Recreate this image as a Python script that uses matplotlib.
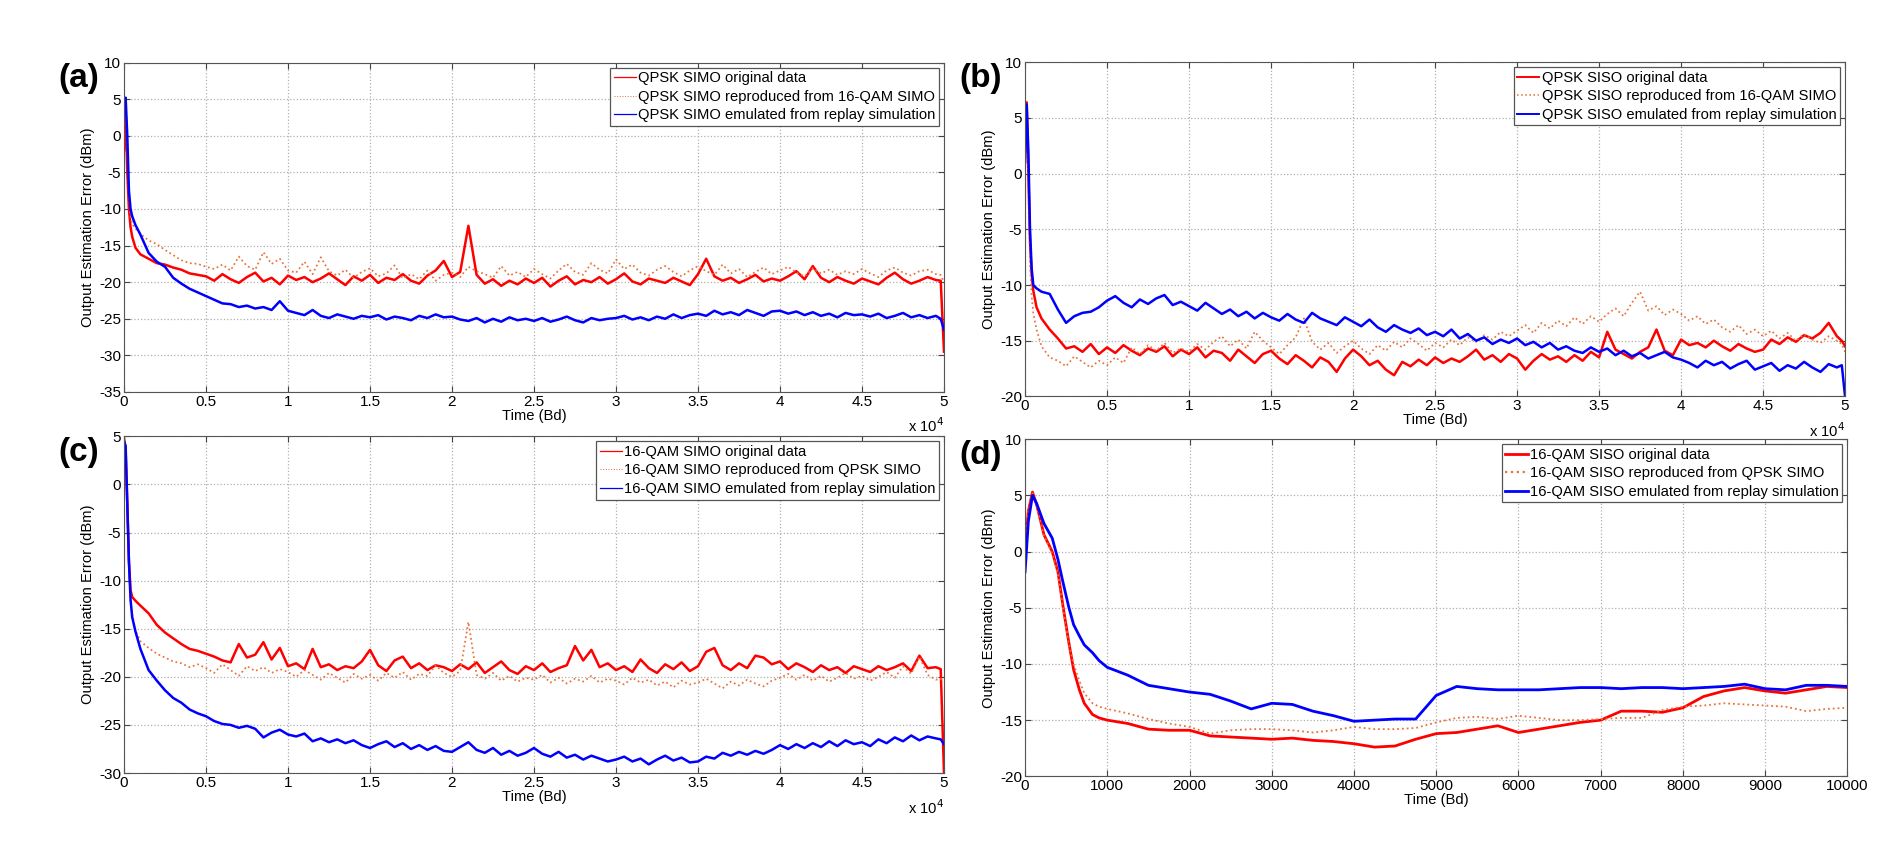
import numpy as np
import matplotlib
matplotlib.use('Agg')
import matplotlib.pyplot as plt
from matplotlib.lines import Line2D
from matplotlib.ticker import FormatStrFormatter

plt.rcParams['font.family'] = ['Liberation Sans', 'DejaVu Sans']
plt.rcParams['axes.unicode_minus'] = False

# ---------------------------------------------------------------------------
# data, panels (a)-(c) share one time grid [Bd]
# ---------------------------------------------------------------------------
x_early = [0, 100, 200, 300, 400, 500, 700, 1000, 1500, 2000, 2500, 3000, 3500, 4000, 4500]
x_abc = np.array(x_early + list(range(5000, 50000, 500)) + [49800, 50000])

# (a) QPSK SIMO
a_orig = [-2, 3.3, -5, -10, -12.5, -13.8, -15.3, -16.2, -16.8, -17.4, -17.6, -18.0, -18.3, -18.8, -19.0,
          -19.2, -19.8, -18.9, -19.6, -20.1, -19.3, -18.7, -19.9, -19.4, -20.3,
          -19.1, -19.7, -19.3, -20.0, -19.5, -18.8, -19.6, -20.4, -19.2, -19.8,
          -19.0, -20.1, -19.4, -19.7, -18.9, -19.8, -20.2, -19.1, -18.4, -17.1,
          -19.3, -18.6, -12.3, -19.0, -20.2, -19.6, -20.5, -19.8, -20.3, -19.5,
          -20.1, -19.4, -20.6, -19.8, -19.2, -20.3, -19.7, -20.0, -19.3, -20.2,
          -19.6, -18.8, -19.9, -20.3, -19.5, -19.8, -20.1, -19.4, -19.9, -20.4,
          -18.9, -16.8, -19.2, -19.8, -19.4, -20.1, -19.6, -19.0, -19.9, -19.5,
          -19.8, -19.2, -18.5, -19.6, -17.8, -19.4, -20.0, -19.3, -19.8, -20.2,
          -19.5, -19.9, -20.3, -19.4, -18.7, -19.6, -20.2, -19.8, -19.3, -19.7,
          -19.8, -29.5]
a_repr = [1, 4.5, -1, -8, -11, -12, -12.7, -13.4, -14.3, -14.8, -15.6, -16.3, -17.0, -17.4, -17.5,
          -17.9, -18.2, -17.6, -18.4, -16.5, -17.8, -18.3, -15.9, -17.5, -16.8,
          -18.4, -18.7, -17.2, -18.9, -16.6, -18.5, -19.1, -18.3, -19.4, -18.6,
          -18.1, -19.2, -18.8, -17.7, -19.5, -18.9, -19.6, -18.4, -19.8, -19.0,
          -18.7, -19.3, -17.9, -18.5, -18.9, -19.4, -17.8, -19.1, -18.6, -19.3,
          -18.2, -18.9, -19.5, -18.4, -17.5, -18.6, -19.0, -17.4, -18.3, -18.8,
          -16.9, -18.2, -17.6, -18.7, -19.1, -18.3, -17.8, -18.6, -19.2, -18.4,
          -17.8, -18.5, -19.0, -17.6, -18.8, -18.2, -19.3, -18.6, -18.0, -18.9,
          -18.4, -17.9, -18.7, -19.2, -18.1, -18.8, -18.3, -19.0, -18.5, -18.9,
          -18.2, -18.8, -19.3, -18.4, -18.0, -18.7, -19.1, -18.5, -18.3, -18.9,
          -19.0, -20.0]
a_emul = [3, 5.2, 0, -7.5, -10, -11, -12.2, -13.5, -16.0, -17.2, -17.9, -19.4, -20.2, -20.9, -21.4,
          -21.9, -22.4, -22.9, -23.0, -23.4, -23.2, -23.6, -23.4, -23.8, -22.6,
          -23.9, -24.2, -24.5, -23.8, -24.6, -24.9, -24.4, -24.7, -25.0, -24.6,
          -24.8, -24.5, -25.1, -24.7, -24.9, -25.2, -24.6, -24.9, -24.4, -24.8,
          -24.7, -25.1, -25.3, -24.9, -25.5, -25.0, -25.4, -24.8, -25.2, -25.0,
          -25.3, -24.9, -25.4, -25.1, -24.7, -25.2, -25.5, -24.9, -25.2, -25.0,
          -24.9, -24.6, -25.1, -24.8, -25.2, -24.7, -25.0, -24.4, -24.9, -24.5,
          -24.3, -24.6, -23.9, -24.4, -24.1, -24.5, -23.8, -24.2, -24.6, -24.0,
          -23.9, -24.3, -24.0, -24.5, -24.1, -24.6, -24.3, -24.8, -24.2, -24.5,
          -24.4, -24.7, -24.3, -24.9, -24.6, -24.2, -24.8, -24.5, -24.9, -24.6,
          -25.0, -26.5]

# (b) QPSK SISO
b_orig = [2, 6.4, 0, -6, -9, -10.5, -12, -13, -14, -14.8, -15.7, -15.5, -16.0, -15.3, -16.2,
          -15.6, -16.1, -15.4, -15.9, -16.3, -15.7, -16.0, -15.5, -16.4, -15.8,
          -16.2, -15.6, -16.5, -15.9, -16.1, -16.8, -15.8, -16.4, -17.0, -16.2,
          -15.9, -16.6, -17.1, -16.3, -16.8, -17.4, -16.5, -16.9, -17.8, -16.6,
          -15.8, -16.4, -17.2, -16.8, -17.6, -18.1, -16.9, -17.3, -16.7, -17.2,
          -16.5, -17.0, -16.6, -16.9, -16.4, -15.8, -16.7, -16.3, -16.9, -16.2,
          -16.6, -17.6, -16.8, -16.2, -16.7, -16.4, -16.9, -16.3, -16.8, -16.0,
          -16.5, -14.2, -15.8, -16.2, -16.6, -16.0, -15.6, -14.0, -15.9, -16.3,
          -14.9, -15.4, -15.2, -15.6, -15.0, -15.5, -15.9, -15.3, -15.7, -16.0,
          -15.8, -14.9, -15.3, -14.7, -15.1, -14.5, -14.8, -14.3, -13.4, -14.6,
          -15.0, -15.5]
b_repr = [1.5, 6.0, -1, -8, -11, -12.5, -14, -15.5, -16.5, -16.8, -17.3, -16.4, -16.9, -17.4, -16.8,
          -17.2, -16.5, -17.0, -15.6, -16.2, -15.4, -15.9, -15.2, -16.1, -15.7,
          -16.0, -15.3, -15.8, -15.1, -14.6, -15.5, -14.9, -15.7, -14.2, -15.0,
          -15.6, -16.2, -15.4, -14.7, -13.0, -15.1, -15.8, -15.2, -16.1, -15.5,
          -15.0, -15.7, -16.2, -15.4, -15.9, -15.1, -15.6, -14.8, -15.3, -15.9,
          -15.2, -15.6, -14.9, -15.4, -14.7, -15.1, -14.5, -14.9, -14.2, -14.6,
          -14.1, -13.6, -14.3, -13.4, -13.9, -13.2, -13.7, -12.9, -13.5, -12.8,
          -13.3, -12.6, -12.1, -12.8, -11.6, -10.6, -12.3, -11.9, -12.7, -12.2,
          -12.6, -13.2, -12.8, -13.5, -13.1, -13.8, -14.2, -13.6, -14.4, -14.0,
          -14.6, -14.1, -14.8, -14.3, -15.0, -14.4, -14.9, -15.2, -14.6, -15.0,
          -15.3, -16.0]
b_emul = [1, 6.2, 2, -5, -8.5, -10, -10.3, -10.6, -10.8, -12.2, -13.4, -12.8, -12.5, -12.4, -12.0,
          -11.4, -11.0, -11.6, -12.0, -11.3, -11.7, -11.2, -10.9, -11.8, -11.5,
          -11.9, -12.3, -11.6, -12.1, -12.6, -12.2, -12.8, -12.4, -13.0, -12.5,
          -12.9, -13.2, -12.6, -13.1, -13.4, -12.5, -13.0, -13.3, -13.6, -12.9,
          -13.3, -13.7, -13.1, -13.8, -14.2, -13.6, -14.0, -14.3, -13.9, -14.5,
          -14.2, -14.6, -14.0, -14.8, -14.4, -15.0, -14.7, -15.3, -14.9, -15.2,
          -14.8, -15.4, -15.1, -15.6, -15.2, -15.8, -15.5, -15.9, -16.1, -15.6,
          -16.0, -15.7, -16.3, -15.9, -16.4, -16.1, -16.6, -16.3, -16.0, -16.5,
          -16.7, -17.0, -17.4, -16.8, -17.2, -16.9, -17.5, -17.1, -16.8, -17.6,
          -17.3, -17.0, -17.7, -17.2, -17.5, -16.9, -17.4, -17.8, -17.1, -17.4,
          -17.2, -20.0]

# (c) 16-QAM SIMO
c_orig = [4.8, 3.5, -2, -8, -11, -11.7, -12.1, -12.6, -13.4, -14.6, -15.4, -16.0, -16.6, -17.1, -17.3,
          -17.6, -17.9, -18.3, -18.5, -16.6, -18.0, -17.7, -16.4, -18.2, -17.0,
          -18.9, -18.6, -19.2, -17.1, -19.0, -18.7, -19.3, -18.9, -19.1, -18.4,
          -17.2, -18.8, -19.4, -18.3, -17.9, -19.1, -18.6, -19.3, -18.8, -19.0,
          -19.4, -18.7, -19.2, -18.5, -19.6, -19.0, -18.4, -19.3, -19.7, -18.9,
          -19.3, -18.6, -19.5, -19.1, -18.8, -16.8, -18.3, -17.2, -19.0, -18.6,
          -19.3, -18.9, -19.5, -18.2, -19.1, -19.6, -18.7, -19.2, -18.5, -19.4,
          -18.9, -17.4, -17.0, -18.8, -19.3, -18.6, -19.1, -17.8, -18.0, -18.7,
          -18.4, -19.2, -18.6, -19.0, -19.5, -18.8, -19.3, -19.0, -19.6, -18.9,
          -19.2, -19.5, -18.9, -19.3, -19.0, -18.6, -19.4, -17.8, -19.1, -19.0,
          -19.2, -30.0]
c_repr = [4.8, 3.2, -2.5, -8.5, -12, -13.5, -15.2, -16.3, -17.0, -17.6, -18.0, -18.4, -18.6, -19.0, -18.7,
          -19.1, -19.6, -18.7, -19.3, -19.9, -18.9, -19.4, -19.0, -19.6, -19.2,
          -19.5, -20.0, -19.3, -19.8, -20.3, -19.6, -20.1, -20.6, -19.7, -20.2,
          -19.8, -20.4, -19.6, -20.1, -19.5, -20.3, -19.7, -19.9, -18.8, -19.6,
          -20.0, -19.4, -14.3, -19.8, -20.2, -19.6, -20.4, -19.9, -20.5, -20.1,
          -20.3, -19.8, -20.6, -20.1, -20.7, -20.2, -20.5, -19.9, -20.6, -20.2,
          -20.4, -20.8, -20.1, -20.6, -20.3, -20.9, -20.5, -21.1, -20.4, -20.8,
          -20.6, -20.2, -20.7, -21.2, -20.5, -20.9, -20.3, -20.7, -21.0, -20.4,
          -20.1, -19.7, -20.3, -19.8, -20.4, -19.9, -20.5, -20.1, -19.6, -20.2,
          -19.9, -20.4, -20.0, -19.5, -20.1, -18.9, -19.7, -17.9, -19.8, -20.3,
          -20.2, -20.5]
c_emul = [4.5, 4.0, -2, -8, -12, -13.8, -15.3, -17.1, -19.3, -20.4, -21.4, -22.2, -22.7, -23.4, -23.8,
          -24.1, -24.6, -24.9, -25.0, -25.3, -25.1, -25.4, -26.3, -25.8, -25.5,
          -26.0, -26.2, -25.9, -26.7, -26.4, -26.8, -26.5, -26.9, -26.6, -27.1,
          -27.4, -27.0, -26.7, -27.3, -26.9, -27.5, -27.1, -27.6, -27.2, -27.7,
          -27.8, -27.3, -26.8, -27.6, -27.9, -27.4, -28.1, -27.7, -28.2, -27.9,
          -27.4, -28.0, -28.3, -27.8, -28.4, -28.1, -28.6, -28.2, -28.5, -28.8,
          -28.6, -28.3, -28.8, -28.5, -29.1, -28.6, -28.2, -28.7, -28.4, -28.9,
          -28.8, -28.3, -28.5, -27.9, -28.2, -27.8, -28.1, -27.7, -28.0, -27.6,
          -27.1, -27.5, -27.0, -27.4, -26.9, -27.3, -26.7, -27.2, -26.6, -27.0,
          -26.8, -27.2, -26.5, -26.9, -26.3, -26.7, -26.1, -26.6, -26.2, -26.4,
          -26.5, -27.0]

# (d) 16-QAM SISO, first 10000 Bd
x_d = np.array([0, 40, 90, 140, 230, 330, 400, 460, 530, 590, 660, 720, 820, 900]
               + list(range(1000, 10001, 250)))
d_orig = [0.5, 3.6, 5.3, 4.2, 1.5, 0.0, -1.8, -4.8, -8.0, -10.5, -12.3, -13.5, -14.5, -14.8,
          -15.0, -15.3, -15.8, -15.9, -15.9, -16.4, -16.5, -16.6, -16.7, -16.6, -16.8, -16.9,
          -17.1, -17.4, -17.3, -16.7, -16.2, -16.1, -15.8, -15.5, -16.1, -15.8, -15.5, -15.2,
          -15.0, -14.2, -14.2, -14.3, -13.9, -12.9, -12.4, -12.1, -12.4, -12.6, -12.3, -12.0,
          -12.1]
d_repr = [0.5, 3.5, 5.2, 4.1, 1.4, -0.2, -2.0, -5.0, -8.2, -10.0, -11.5, -12.6, -13.5, -13.8,
          -14.0, -14.4, -14.9, -15.3, -15.6, -16.2, -15.9, -15.8, -15.8, -15.9, -16.1, -15.9,
          -15.6, -15.8, -15.8, -15.7, -15.2, -14.8, -14.7, -14.9, -14.6, -14.8, -15.0, -15.0,
          -14.9, -14.8, -14.8, -14.1, -13.8, -13.7, -13.5, -13.6, -13.7, -13.8, -14.2, -14.0,
          -13.9]
d_emul = [-1.8, 2.7, 5.0, 4.3, 2.5, 1.2, -0.7, -2.7, -4.9, -6.5, -7.5, -8.3, -9.0, -9.7,
          -10.3, -11.0, -11.9, -12.2, -12.5, -12.7, -13.3, -14.0, -13.5, -13.6, -14.2, -14.6,
          -15.1, -15.0, -14.9, -14.9, -12.8, -12.0, -12.2, -12.3, -12.3, -12.3, -12.2, -12.1,
          -12.1, -12.2, -12.1, -12.1, -12.2, -12.1, -12.0, -11.8, -12.2, -12.3, -11.9, -11.9,
          -12.0]

labels_a = ['QPSK SIMO original data', 'QPSK SIMO reproduced from 16-QAM SIMO',
            'QPSK SIMO emulated from replay simulation']
labels_b = ['QPSK SISO original data', 'QPSK SISO reproduced from 16-QAM SIMO',
            'QPSK SISO emulated from replay simulation']
labels_c = ['16-QAM SIMO original data', '16-QAM SIMO reproduced from QPSK SIMO',
            '16-QAM SIMO emulated from replay simulation']
labels_d = ['16-QAM SISO original data', '16-QAM SISO reproduced from QPSK SIMO',
            '16-QAM SISO emulated from replay simulation']

# ---------------------------------------------------------------------------
# plot
# ---------------------------------------------------------------------------
RED = '#ff0000'
ORANGE = '#e8733a'
BLUE = '#0000ff'

fig = plt.figure(figsize=(18.99, 8.49), dpi=100)
ax_a = fig.add_axes([0.0653, 0.5383, 0.4318, 0.388])
ax_b = fig.add_axes([0.5398, 0.5331, 0.4318, 0.3936])
ax_c = fig.add_axes([0.0653, 0.0895, 0.4318, 0.3966])
ax_d = fig.add_axes([0.5398, 0.0856, 0.4330, 0.3970])


def style(ax, xlim, ylim, yticks, xticks):
    ax.set_xlim(*xlim)
    ax.set_ylim(*ylim)
    ax.set_yticks(yticks)
    ax.set_xticks(xticks)
    ax.grid(True, linestyle=':', color='#b0b0b0', linewidth=0.9)
    ax.tick_params(direction='in', top=True, right=True, labelsize=11, pad=2,
                   length=4, color='#444444')
    for s in ax.spines.values():
        s.set_color('#555555')
    ax.set_xlabel('Time (Bd)', fontsize=10.6, labelpad=0)
    ax.set_ylabel('Output Estimation Error (dBm)', fontsize=10.6, labelpad=3)


def draw(ax, x, orig, repr_, emul, labels, lw, leg_lw):
    ax.plot(x, orig, color=RED, lw=lw)
    ax.plot(x, repr_, color=ORANGE, lw=min(lw * 0.7, 1.3), ls=':')
    ax.plot(x, emul, color=BLUE, lw=lw)
    handles = [Line2D([], [], color=RED, lw=leg_lw),
               Line2D([], [], color=ORANGE, lw=leg_lw * 0.8, ls=':'),
               Line2D([], [], color=BLUE, lw=leg_lw)]
    leg = ax.legend(handles, labels, loc='upper right', fontsize=10.6, fancybox=False,
                    framealpha=1, edgecolor='#555555', borderaxespad=0.34,
                    handlelength=1.5, handletextpad=0.15, labelspacing=0.3,
                    borderpad=0.25)
    leg.get_frame().set_linewidth(0.9)


xs = x_abc / 1e4
draw(ax_a, xs, a_orig, a_repr, a_emul, labels_a, 1.8, 0.9)
draw(ax_b, xs, b_orig, b_repr, b_emul, labels_b, 1.8, 1.4)
draw(ax_c, xs, c_orig, c_repr, c_emul, labels_c, 1.8, 0.9)
draw(ax_d, x_d, d_orig, d_repr, d_emul, labels_d, 2.0, 2.0)

ticks5 = np.arange(0, 5.01, 0.5)
style(ax_a, (0, 5), (-35, 10), range(-35, 11, 5), ticks5)
style(ax_b, (0, 5), (-20, 10), range(-20, 11, 5), ticks5)
style(ax_c, (0, 5), (-30, 5), range(-30, 6, 5), ticks5)
style(ax_d, (0, 10000), (-20, 10), range(-20, 11, 5), range(0, 10001, 1000))

for ax in (ax_a, ax_b, ax_c):
    ax.xaxis.set_major_formatter(FormatStrFormatter('%g'))
    ax.text(1.0, -0.103, 'x 10$^4$', transform=ax.transAxes, ha='right', va='center',
            fontsize=10.6)

for ax, tag in ((ax_a, '(a)'), (ax_b, '(b)'), (ax_c, '(c)'), (ax_d, '(d)')):
    pos = ax.get_position()
    fig.text(pos.x0 - 0.0345, pos.y1 - 0.001, tag, fontsize=24, fontweight='bold',
             ha='left', va='top')

fig.savefig('out.png', dpi=100)
